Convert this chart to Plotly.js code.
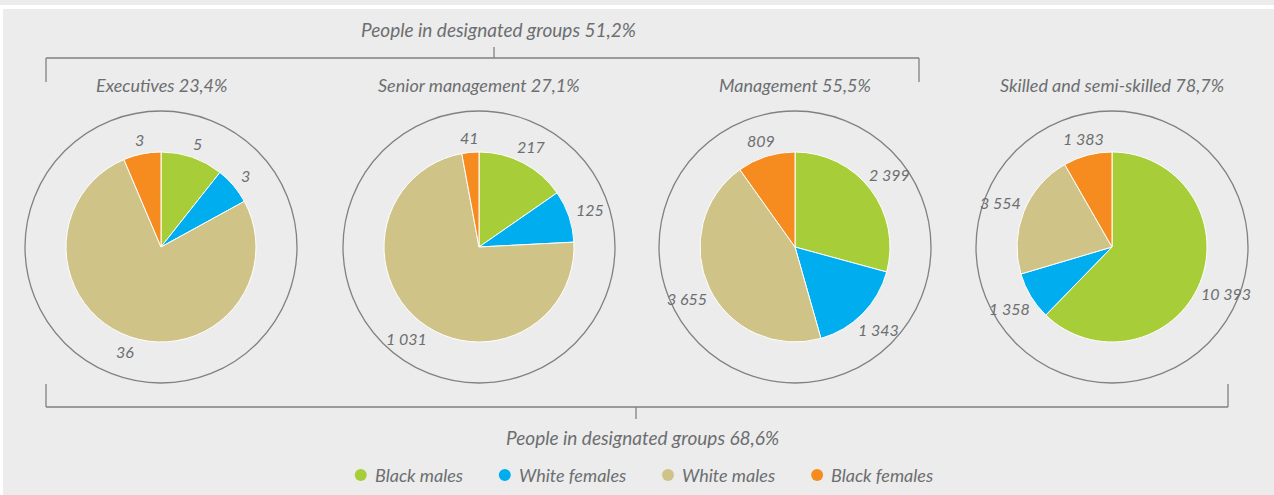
<!DOCTYPE html>
<html><head><meta charset="utf-8">
<script src="https://cdn.plot.ly/plotly-3.0.1.min.js"></script>
<style>html,body{margin:0;padding:0;background:#ebeceb;}#chart{width:1274px;height:495px;}</style>
</head><body><div id="chart"></div>
<script>
// ---- data ----
const groups = ['Executives', 'Senior management', 'Management', 'Skilled and semi-skilled'];
const groupPct = ['23,4%', '27,1%', '55,5%', '78,7%'];
const series = ['Black males', 'White females', 'White males', 'Black females'];
const blackMales   = [5, 217, 2399, 10393];
const whiteFemales = [3, 125, 1343, 1358];
const whiteMales   = [36, 1031, 3655, 3554];
const blackFemales = [3, 41, 809, 1383];
const topBracketLabel = 'People in designated groups 51,2%';
const bottomBracketLabel = 'People in designated groups 68,6%';

// ---- style / layout ----
const W = 1274, H = 495;
const colors = ['#a7ce39', '#00aeef', '#cfc387', '#f68b1f'];
const textColor = '#6d6e71';
const lineColor = '#808181';
const FONT = 'Lato, "Open Sans", sans-serif';
const centersX = [161, 479, 795, 1112];
const cy = 247, R = 95, ROUT = 136;
const px = x => x / W, py = y => 1 - y / H;
const font = (size) => ({family: FONT, size: size, color: textColor, style: 'italic'});

const fmt = v => String(v).replace(/\B(?=(\d{3})+(?!\d))/g, ' ');

const canvas = document.createElement('canvas');
const ctx = canvas.getContext('2d');
const measure = (t, size) => { ctx.font = 'italic ' + size + 'px Lato'; return ctx.measureText(t).width; };

const traces = [];
const annotations = [];
const shapes = [];
const VAL_SIZE = 16;

groups.forEach((g, i) => {
  const vals = [blackMales[i], whiteFemales[i], whiteMales[i], blackFemales[i]];
  const cx = centersX[i];
  traces.push({
    type: 'pie', labels: series, values: vals, sort: false,
    direction: 'clockwise', rotation: 0, textinfo: 'none', hoverinfo: 'label+value',
    marker: {colors: colors, line: {color: '#ffffff', width: 1}},
    showlegend: false,
    domain: {x: [px(cx - R), px(cx + R)], y: [py(cy + R), py(cy - R)]}
  });
  // outer ring
  shapes.push({type: 'circle', xref: 'paper', yref: 'paper',
    x0: px(cx - ROUT), x1: px(cx + ROUT), y0: py(cy + ROUT), y1: py(cy - ROUT),
    line: {color: lineColor, width: 1.3}});
  // group title
  annotations.push({xref: 'paper', yref: 'paper', x: px(cx), y: py(85),
    text: g + ' ' + groupPct[i], showarrow: false, xanchor: 'center', yanchor: 'middle',
    font: font(18)});
  // slice value labels at slice mid-angles
  const total = vals.reduce((a, b) => a + b, 0);
  let cum = 0;
  vals.forEach((v, k) => {
    const mid = (cum + v / 2) / total * 2 * Math.PI;
    cum += v;
    const t = fmt(v);
    const w = measure(t, VAL_SIZE);
    const r = R + 14 + Math.abs(Math.sin(mid)) * w * 0.3;
    annotations.push({xref: 'paper', yref: 'paper',
      x: px(cx + r * Math.sin(mid)), y: py(cy - r * Math.cos(mid)),
      text: t, showarrow: false, xanchor: 'center', yanchor: 'middle',
      font: font(VAL_SIZE)});
  });
});

// brackets
const L = (x0, y0, x1, y1) => shapes.push({type: 'line', xref: 'paper', yref: 'paper',
  x0: px(x0), y0: py(y0), x1: px(x1), y1: py(y1), line: {color: lineColor, width: 1.3}});
L(46, 58, 919, 58); L(46, 58, 46, 82); L(919, 58, 919, 82); L(494, 47, 494, 58);
L(46, 407, 1228, 407); L(46, 384, 46, 407); L(1228, 384, 1228, 407); L(636, 407, 636, 419);
// white frame strips
shapes.push({type: 'rect', xref: 'paper', yref: 'paper', x0: 0, x1: 1, y0: py(9), y1: py(5),
  fillcolor: '#ffffff', line: {width: 0}, layer: 'below'});
shapes.push({type: 'rect', xref: 'paper', yref: 'paper', x0: 0, x1: px(3), y0: 0, y1: py(9),
  fillcolor: '#ffffff', line: {width: 0}, layer: 'below'});

annotations.push({xref: 'paper', yref: 'paper', x: px(498), y: py(29), text: topBracketLabel,
  showarrow: false, xanchor: 'center', yanchor: 'middle', font: font(19)});
annotations.push({xref: 'paper', yref: 'paper', x: px(642), y: py(437), text: bottomBracketLabel,
  showarrow: false, xanchor: 'center', yanchor: 'middle', font: font(19)});

// legend: coloured dots + italic labels, centred under the chart
const LEG_SIZE = 18, DOT_R = 6, DOT_GAP = 12, ITEM_GAP = 44, legY = 475, legCenter = 640;
const widths = series.map(s => measure(s, LEG_SIZE));
const totalW = widths.reduce((a, w) => a + DOT_GAP + w, 0) + ITEM_GAP * (series.length - 1);
let lx = legCenter - totalW / 2 + DOT_R;
series.forEach((s, k) => {
  shapes.push({type: 'circle', xref: 'paper', yref: 'paper',
    x0: px(lx - DOT_R), x1: px(lx + DOT_R), y0: py(legY + DOT_R), y1: py(legY - DOT_R),
    fillcolor: colors[k], line: {width: 0}});
  annotations.push({xref: 'paper', yref: 'paper', x: px(lx + DOT_GAP), y: py(legY),
    text: s, showarrow: false, xanchor: 'left', yanchor: 'middle', font: font(LEG_SIZE)});
  lx += DOT_GAP + widths[k] + ITEM_GAP;
});

const layout = {
  width: W, height: H, margin: {l: 0, r: 0, t: 0, b: 0},
  paper_bgcolor: '#ebeceb', plot_bgcolor: 'rgba(0,0,0,0)',
  showlegend: false,
  shapes: shapes, annotations: annotations
};
Plotly.newPlot('chart', traces, layout, {displayModeBar: false, staticPlot: true});
</script></body></html>
